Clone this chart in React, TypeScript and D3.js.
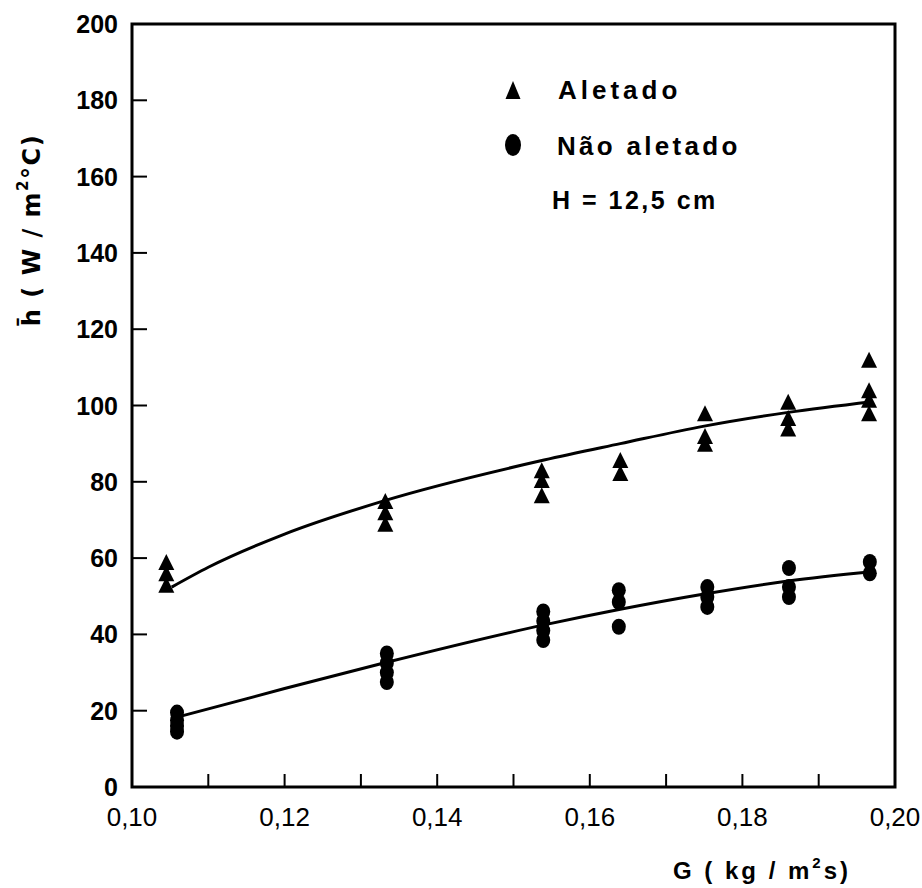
import React from "react"
import * as d3 from "d3"

// G (kg/m2s) cluster positions and measured h values
const gAletado = [0.1045, 0.1332, 0.1537, 0.164, 0.1751, 0.186, 0.1966]
const hAletado = [
  [59, 56, 53],
  [75, 72, 69],
  [83, 80.5, 76.5],
  [85.7, 82.3],
  [98, 92, 90],
  [101, 96.7, 94],
  [112, 104, 101.5, 98],
]
const gNao = [0.1059, 0.1334, 0.1539, 0.1638, 0.1754, 0.1861, 0.1967]
const hNao = [
  [19.5, 17.5, 16, 14.5],
  [35, 32.5, 30, 27.5],
  [46, 43.5, 41, 38.5],
  [51.6, 48.5, 42],
  [52.4, 49.8, 47.2],
  [57.4, 52.4, 49.8],
  [59, 56],
]

// fitted curves
const fitAletadoG = [0.1052, 0.11, 0.12, 0.133, 0.154, 0.164, 0.175, 0.186, 0.197]
const fitAletadoH = [52.4, 57.6, 66.3, 75, 85.7, 90, 94.6, 98.2, 101]
const fitNaoG = [0.1063, 0.12, 0.133, 0.154, 0.164, 0.175, 0.186, 0.197]
const fitNaoH = [18.5, 25.8, 32.5, 42.5, 46.6, 50.6, 54, 56.4]

const xTicks = [0.1, 0.11, 0.12, 0.13, 0.14, 0.15, 0.16, 0.17, 0.18, 0.19, 0.2]
const xTickLabels = ["0,10", "0,12", "0,14", "0,16", "0,18", "0,20"]
const yTicks = [0, 20, 40, 60, 80, 100, 120, 140, 160, 180, 200]

export default function App() {
  const x = d3.scaleLinear().domain([0.1, 0.2]).range([132, 895])
  const y = d3.scaleLinear().domain([0, 200]).range([787, 24])

  const line = d3
    .line<[number, number]>()
    .x((d) => x(d[0]))
    .y((d) => y(d[1]))
    .curve(d3.curveMonotoneX)

  const tri = (cx: number, cy: number, w = 16, h = 16) =>
    `M${cx},${cy - h / 2}L${cx + w / 2},${cy + h / 2}L${cx - w / 2},${cy + h / 2}Z`

  const font = "'Liberation Sans', Arial, sans-serif"

  return (
    <svg width={922} height={888} style={{ position: "absolute", left: 0, top: 0, background: "#fff" }}>
      {/* frame */}
      <rect x={x(0.1)} y={y(200)} width={x(0.2) - x(0.1)} height={y(0) - y(200)} fill="none" stroke="#000" strokeWidth={3} />

      {/* y ticks */}
      {yTicks.map((t) => (
        <g key={"y" + t}>
          {t > 0 && t < 200 && (
            <line x1={x(0.1)} x2={x(0.1) + 15} y1={y(t)} y2={y(t)} stroke="#000" strokeWidth={2} />
          )}
          <text x={118} y={y(t)} dy="0.36em" textAnchor="end" fontFamily={font} fontWeight="bold" fontSize={25}>
            {t}
          </text>
        </g>
      ))}

      {/* x ticks */}
      {xTicks.map((t, i) =>
        i > 0 && i < xTicks.length - 1 ? (
          <line key={"x" + t} x1={x(t)} x2={x(t)} y1={y(0)} y2={y(0) - 13} stroke="#000" strokeWidth={2} />
        ) : null
      )}
      {xTickLabels.map((lab, i) => (
        <text key={lab} x={x(0.1 + i * 0.02)} y={826} textAnchor="middle" fontFamily={font} fontSize={26}>
          {lab}
        </text>
      ))}

      {/* axis titles */}
      <text x={762} y={879} textAnchor="middle" fontFamily={font} fontWeight="bold" fontSize={24} letterSpacing={3}>
        G ( kg / m<tspan dy={-11} fontSize={15}>2</tspan>
        <tspan dy={11}>s)</tspan>
      </text>
      <text
        transform="translate(40,230) rotate(-90)"
        textAnchor="middle"
        fontFamily="'DejaVu Sans', sans-serif"
        fontWeight="bold"
        fontSize={24}
        letterSpacing={1.5}
      >
        {"h\u0304 ( W / m"}
        <tspan dy={-12} fontSize={15}>2</tspan>
        <tspan dy={12}>°C)</tspan>
      </text>

      {/* fitted curves */}
      <path d={line(fitAletadoG.map((g, i) => [g, fitAletadoH[i]]))!} fill="none" stroke="#000" strokeWidth={3} />
      <path d={line(fitNaoG.map((g, i) => [g, fitNaoH[i]]))!} fill="none" stroke="#000" strokeWidth={3} />

      {/* data */}
      {gAletado.map((g, i) =>
        hAletado[i].map((h, j) => <path key={`a${i}-${j}`} d={tri(x(g), y(h))} fill="#000" />)
      )}
      {gNao.map((g, i) =>
        hNao[i].map((h, j) => <ellipse key={`n${i}-${j}`} cx={x(g)} cy={y(h)} rx={7} ry={8} fill="#000" />)
      )}

      {/* legend */}
      <path d={tri(513, 90, 15, 18)} fill="#000" />
      <text x={558} y={99} fontFamily={font} fontWeight="bold" fontSize={26} letterSpacing={4}>
        Aletado
      </text>
      <ellipse cx={513} cy={145} rx={8} ry={11} fill="#000" />
      <text x={557} y={155} fontFamily={font} fontWeight="bold" fontSize={26} letterSpacing={3.3}>
        Não aletado
      </text>
      <text x={552} y={209} fontFamily={font} fontWeight="bold" fontSize={25} letterSpacing={2.5}>
        H = 12,5 cm
      </text>
    </svg>
  )
}
